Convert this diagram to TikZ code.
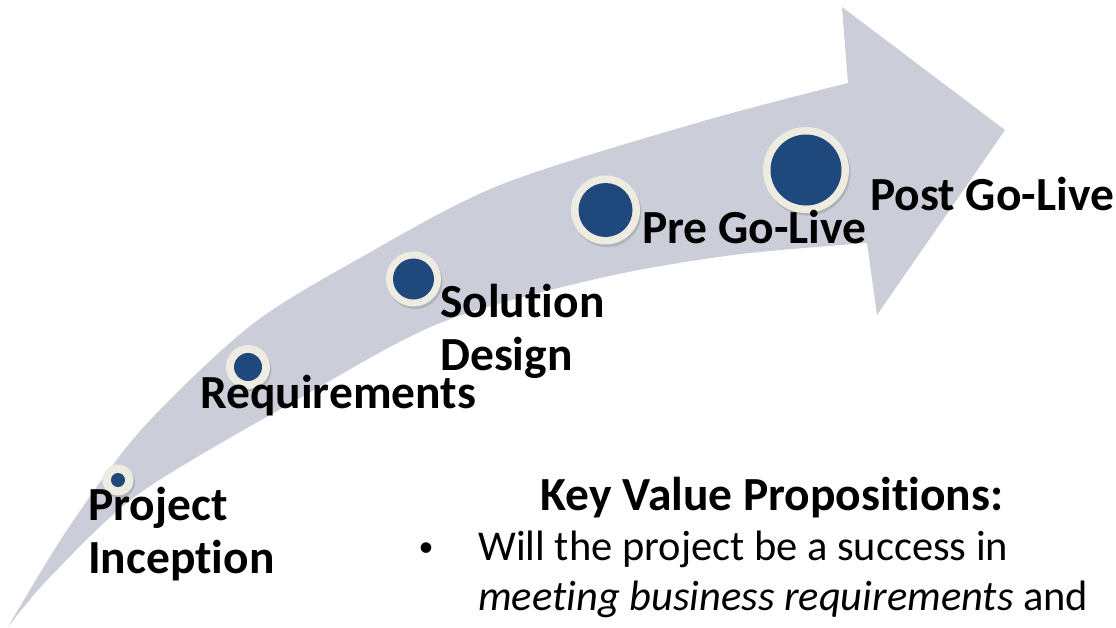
\documentclass[tikz,border=0pt]{standalone}
\usepackage{fontspec}
\setmainfont{Carlito}[Ligatures=NoCommon]
\usetikzlibrary{shadows}
\definecolor{arrowgray}{HTML}{CBCED9}
\definecolor{cream}{HTML}{EEECE1}
\definecolor{dotblue}{HTML}{1F497D}
\tikzset{
  ring/.style={circle, fill=cream, inner sep=0pt, drop shadow={shadow xshift=1.5pt, shadow yshift=-2.5pt, opacity=0.35}},
  dot/.style={circle, fill=dotblue, inner sep=0pt},
  stagelabel/.style={anchor=base west, inner sep=0pt, font=\fontsize{47.5}{53}\selectfont\bfseries, align=left},
  bodytext/.style={anchor=base west, inner sep=0pt, font=\fontsize{42.5}{50}\selectfont}
}
\begin{document}
\begin{tikzpicture}[x=1pt,y=-1pt]
\useasboundingbox (0,0) rectangle (1116,627);
% arrow
\fill[arrowgray] plot[smooth] coordinates {(8,627) (67,530) (141,430) (250,326) (360,258) (500,185) (700,122) (848,83)}
  -- (842,7) -- (1005,130) -- (877,315) --
  plot[smooth] coordinates {(867,243) (733,255) (600,278) (440,323) (300,398) (140,493) (50,577) (8,627)} -- cycle;
% circles
\node[ring, minimum size=31pt] (r1) at (118,480) {};
\node[dot, minimum size=14pt] (d1) at (r1) {};
\node[ring, minimum size=44pt] (r2) at (248,367) {};
\node[dot, minimum size=28pt] (d2) at (r2) {};
\node[ring, minimum size=55pt] (r3) at (413.5,279) {};
\node[dot, minimum size=41pt] (d3) at (r3) {};
\node[ring, minimum size=69pt] (r4) at (605.5,210) {};
\node[dot, minimum size=54pt] (d4) at (r4) {};
\node[ring, minimum size=86pt] (r5) at (806,170) {};
\node[dot, minimum size=71pt] (d5) at (r5) {};
% labels
\node[stagelabel] (l1) at (88,573) {Project\\Inception};
\node[stagelabel] (l2) at (200,408) {Requirements};
\node[stagelabel] (l3) at (440,370) {Solution\\Design};
\node[stagelabel] (l4) at (642,243) {Pre Go-Live};
\node[stagelabel] (l5) at (870,210) {Post Go-Live};
% key value propositions
\node[anchor=base, inner sep=0pt, font=\fontsize{47.5}{53}\selectfont\bfseries] (kv) at (772,510) {Key Value Propositions:};
\node[anchor=base, inner sep=0pt, font=\fontsize{30}{36}\selectfont] (bul) at (426,556) {•};
\node[bodytext] (b1) at (478,560) {Will the project be a success in};
\node[bodytext] (b2) at (478,610) {\textit{meeting business requirements} and};
\end{tikzpicture}
\end{document}
